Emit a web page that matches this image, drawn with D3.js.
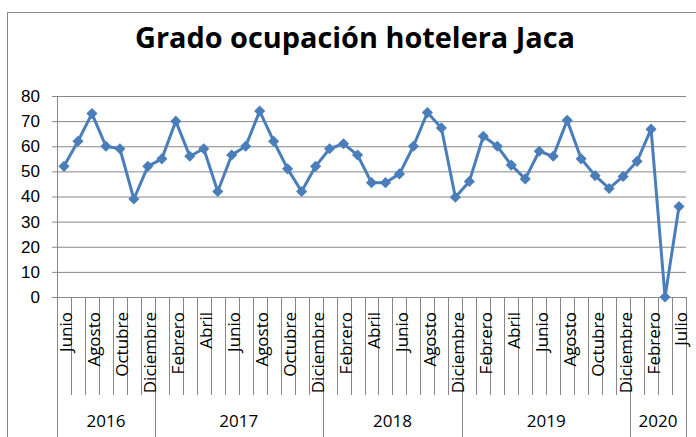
<!DOCTYPE html>
<html>
<head>
<meta charset="utf-8">
<script src="https://cdn.jsdelivr.net/npm/d3@7"></script>
<style>
  body { margin: 0; background: #fff; }
  svg { display: block; font-family: "Open Sans", sans-serif; }
</style>
</head>
<body>
<svg></svg>
<script>
// months shown on the axis (some months are missing in the source data)
var months = [
  "Junio", "Julio", "Agosto", "Septiembre", "Octubre", "Noviembre", "Diciembre",
  "Enero", "Febrero", "Marzo", "Abril", "Mayo", "Junio", "Julio", "Agosto", "Septiembre", "Octubre", "Noviembre", "Diciembre",
  "Enero", "Febrero", "Marzo", "Abril", "Mayo", "Junio", "Julio", "Agosto", "Septiembre", "Diciembre",
  "Enero", "Febrero", "Marzo", "Abril", "Mayo", "Junio", "Julio", "Agosto", "Septiembre", "Octubre", "Noviembre", "Diciembre",
  "Enero", "Febrero", "Marzo", "Julio"
]
var years = ["2016", "2017", "2018", "2019", "2020"]
var yearCounts = [7, 12, 10, 12, 4]
var occupancy = [
  52, 62, 73, 60, 59, 39, 52,
  55, 70, 56, 59, 42, 56.5, 60, 74, 62, 51, 42, 52,
  59, 61, 56.5, 45.5, 45.5, 49, 60, 73.4, 67.3, 39.7,
  46, 64, 60, 52.5, 47, 58, 56, 70.3, 55, 48.3, 43.2, 48,
  54, 66.8, 0, 36
]
var yTicks = [0, 10, 20, 30, 40, 50, 60, 70, 80]

var width = 696
var height = 437
var plotLeft = 57, plotRight = 686, plotTop = 96, plotBottom = 297
var gray = "#878787"
var blue = "#4a7ebb"

var svg = d3.select("svg")
  .attr("width", width)
  .attr("height", height)

// chart border (cut off at right and bottom like the picture)
svg.append("rect")
  .attr("x", 7.5).attr("y", 12.5)
  .attr("width", 720).attr("height", 460)
  .attr("fill", "none").attr("stroke", gray)

var x = d3.scaleBand()
  .domain(d3.range(months.length))
  .range([plotLeft, plotRight])
  .padding(0)

var y = d3.scaleLinear()
  .domain([0, 80])
  .range([plotBottom, plotTop])

// title
var title = svg.append("text")
  .attr("x", 355).attr("y", 48)
  .attr("text-anchor", "middle")
  .style("font-weight", "bold")
  .style("font-size", "24px")
  .text("Grado ocupación hotelera Jaca")
var tl = title.node().getComputedTextLength()
title.style("font-size", (24 * 440 / tl) + "px")

// gridlines + y labels
var yAxis = d3.axisLeft(y)
  .tickValues(yTicks)
  .tickSize(-(plotRight - plotLeft))
  .tickPadding(12)
var gy = svg.append("g")
  .attr("transform", "translate(" + plotLeft + ",0)")
  .call(yAxis)
gy.select(".domain").remove()
gy.selectAll(".tick line")
  .attr("x1", -5)
  .attr("stroke", gray)
gy.selectAll(".tick text")
  .style("font-size", "17px")
  .attr("fill", "#000")
  .attr("x", -17)

// y axis line, runs down to the bottom of the picture
svg.append("line")
  .attr("x1", plotLeft + 0.5).attr("x2", plotLeft + 0.5)
  .attr("y1", plotTop).attr("y2", height)
  .attr("stroke", gray)

// category ticks between months
svg.append("g")
  .selectAll("line")
  .data(d3.range(1, months.length + 1))
  .enter().append("line")
  .attr("x1", function (d) { return Math.round(plotLeft + d * x.bandwidth()) + 0.5 })
  .attr("x2", function (d) { return Math.round(plotLeft + d * x.bandwidth()) + 0.5 })
  .attr("y1", plotBottom)
  .attr("y2", 395)
  .attr("stroke", gray)

// year separators
var bounds = []
var acc = 0
yearCounts.forEach(function (c) { bounds.push([acc, acc + c]); acc += c })
svg.append("g")
  .selectAll("line")
  .data(bounds)
  .enter().append("line")
  .attr("x1", function (d) { return Math.round(plotLeft + d[1] * x.bandwidth()) + 0.5 })
  .attr("x2", function (d) { return Math.round(plotLeft + d[1] * x.bandwidth()) + 0.5 })
  .attr("y1", plotBottom)
  .attr("y2", height)
  .attr("stroke", gray)

// month labels, every other one
svg.append("g")
  .selectAll("text")
  .data(d3.range(0, months.length, 2))
  .enter().append("text")
  .attr("transform", function (i) {
    return "translate(" + (x(i) + x.bandwidth() / 2 + 2.5) + ",312) rotate(-90)"
  })
  .attr("dy", "0.35em")
  .attr("text-anchor", "end")
  .style("font-size", "17px")
  .text(function (i) { return months[i] })

// year labels
svg.append("g")
  .selectAll("text")
  .data(bounds)
  .enter().append("text")
  .attr("x", function (d) { return plotLeft + (d[0] + d[1]) / 2 * x.bandwidth() })
  .attr("y", 427)
  .attr("text-anchor", "middle")
  .style("font-size", "17px")
  .text(function (d, i) { return years[i] })

// horizontal category axis line
svg.append("line")
  .attr("x1", plotLeft - 5).attr("x2", plotRight)
  .attr("y1", plotBottom + 0.5).attr("y2", plotBottom + 0.5)
  .attr("stroke", gray)

// the series
var line = d3.line()
  .x(function (d, i) { return x(i) + x.bandwidth() / 2 })
  .y(function (d) { return y(d) })

svg.append("path")
  .datum(occupancy)
  .attr("d", line)
  .attr("fill", "none")
  .attr("stroke", blue)
  .attr("stroke-width", 3)
  .attr("stroke-linejoin", "round")

var marker = d3.symbol().type(d3.symbolSquare).size(62)
svg.append("g")
  .selectAll("path")
  .data(occupancy)
  .enter().append("path")
  .attr("d", marker)
  .attr("transform", function (d, i) {
    return "translate(" + (x(i) + x.bandwidth() / 2) + "," + y(d) + ") rotate(45)"
  })
  .attr("fill", blue)
</script>
</body>
</html>
